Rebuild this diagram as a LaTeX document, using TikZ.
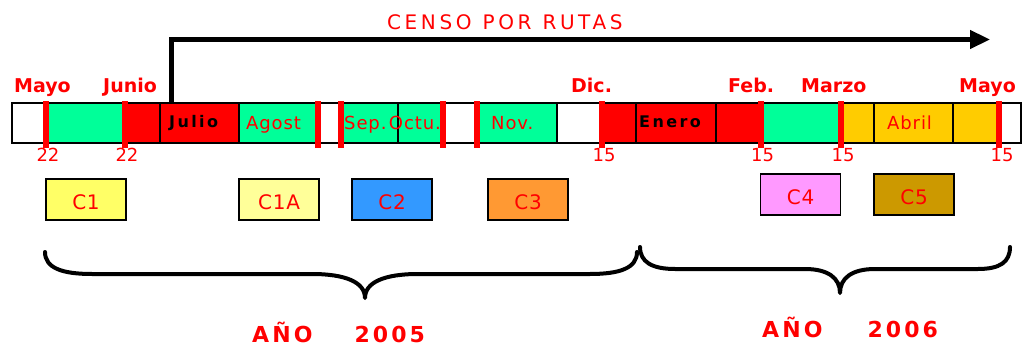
\documentclass[tikz,border=0pt]{standalone}
\usepackage{fontspec}
\setmainfont{DejaVu Sans}
\usetikzlibrary{arrows.meta}
\definecolor{bargreen}{HTML}{00FF99}
\definecolor{barorange}{HTML}{FFCC00}
\definecolor{cyellow}{HTML}{FFFF66}
\definecolor{clight}{HTML}{FFFF99}
\definecolor{cblue}{HTML}{3399FF}
\definecolor{corange}{HTML}{FF9933}
\definecolor{cpink}{HTML}{FF99FF}
\definecolor{cgold}{HTML}{CC9900}
\begin{document}
\begin{tikzpicture}[x=1pt,y=-1pt,
  cell/.style={draw=black, line width=1.2pt, minimum height=40pt, inner sep=0pt, outer sep=0pt},
  marker/.style={fill=red, minimum width=6pt, minimum height=47pt, inner sep=0pt, outer sep=0pt},
  month/.style={text=red, font=\bfseries\fontsize{19}{19}\selectfont, anchor=base west, inner sep=0pt},
  day/.style={text=red, font=\fontsize{18}{18}\selectfont, anchor=base, inner sep=0pt},
  inbar/.style={text=red, font=\fontsize{18}{18}\selectfont\addfontfeature{LetterSpace=5}, anchor=base west, inner sep=0pt},
  inbarbold/.style={text=black, font=\bfseries\fontsize{16}{16}\selectfont\addfontfeature{LetterSpace=15}, anchor=base west, inner sep=0pt},
  cbox/.style={draw=black, line width=1.2pt, minimum width=80pt, minimum height=41pt, inner sep=0pt, text=red, text height=20pt, text depth=0pt, font=\fontsize{20}{20}\selectfont\addfontfeature{LetterSpace=4}},
  brace/.style={line width=4pt, line cap=round, line join=round},
  year/.style={text=red, font=\bfseries\fontsize{22}{22}\selectfont\addfontfeature{LetterSpace=14}, anchor=base west, inner sep=0pt},
  title/.style={text=red, font=\fontsize{20}{20}\selectfont\addfontfeature{LetterSpace=18}, anchor=base west, inner sep=0pt}
]
\useasboundingbox (0,0) rectangle (1024,347);
% bar cells
\foreach \l/\r/\c [count=\i] in {12/47/white, 47/125/bargreen, 125/160/red, 160/239/red, 239/317/bargreen,
  320/342/white, 342/398/bargreen, 398/443/bargreen, 443/477/white, 477/557/bargreen, 557/600/white,
  600/636/red, 636/716/red, 716/762/red, 762/840/bargreen, 840/874/barorange, 874/953/barorange,
  953/998/barorange, 998/1021/white}
  \node[cell, fill=\c, minimum width={(\r-\l)*1pt}] (cell\i) at ({(\l+\r)/2},123) {};
% red markers
\foreach \x [count=\i] in {46,125,318,341,443,477,602,761,841,999}
  \node[marker] (mk\i) at (\x,124.5) {};
% month labels
\node[month] (mMayo) at (14,93) {Mayo};
\node[month] (mJunio) at (103,93) {Junio};
\node[month] (mDic) at (571,93) {Dic.};
\node[month] (mFeb) at (728,93) {Feb.};
\node[month] (mMarzo) at (801,93) {Marzo};
\node[month] (mMayoB) at (959,93) {Mayo};
% day numbers
\node[day] (d1) at (48,162) {22};
\node[day] (d2) at (127,162) {22};
\node[day] (d3) at (604,162) {15};
\node[day] (d4) at (762.5,162) {15};
\node[day] (d5) at (843,162) {15};
\node[day] (d6) at (1002,162) {15};
% text in bar
\node[inbarbold] (tJulio) at (169,128) {Julio};
\node[inbar] (tAgost) at (246,129.5) {Agost};
\node[inbar] (tSep) at (344,130) {Sep.};
\node[inbar, anchor=base east] (tOctu) at (441,130) {Octu.};
\node[inbar] (tNov) at (491,130) {Nov.};
\node[inbarbold] (tEnero) at (639,128) {Enero};
\node[inbar] (tAbril) at (887,130) {Abril};
% census arrow
\node[title] (censo) at (387,30) {CENSO\hspace{11pt}POR\hspace{11pt}RUTAS};
\coordinate (arrStart) at (171.5,103);
\coordinate (arrCorner) at (171.5,39.5);
\coordinate (arrEnd) at (990,39.5);
\draw[line width=4.5pt, -{Triangle[length=20pt,width=18pt]}] (arrStart) -- (arrCorner) -- (arrEnd);
% campaign boxes
\node[cbox, fill=cyellow] (C1) at (86,199.5) {C1};
\node[cbox, fill=clight] (C1A) at (279,199.5) {C1A};
\node[cbox, fill=cblue] (C2) at (392,199.5) {C2};
\node[cbox, fill=corange] (C3) at (528,199.5) {C3};
\node[cbox, fill=cpink] (C4) at (800.5,194.5) {C4};
\node[cbox, fill=cgold] (C5) at (914,194.5) {C5};
% braces
\draw[brace] (45,252) .. controls (45,268) and (62,274) .. (92,274) -- (312,274)
  .. controls (345,274) and (365,282) .. (365,298)
  .. controls (365,282) and (385,274) .. (418,274) -- (590,274)
  .. controls (620,274) and (637,268) .. (637,252);
\draw[brace] (640,247) .. controls (640,262) and (652,269) .. (675,269) -- (805,269)
  .. controls (828,269) and (840,278) .. (840,293)
  .. controls (840,278) and (852,269) .. (875,269) -- (978,269)
  .. controls (1000,269) and (1010,262) .. (1010,247);
% year labels
\node[year] (y2005) at (252,342) {AÑO\hspace{42pt}2005};
\node[year] (y2006) at (762,337) {AÑO\hspace{45pt}2006};
\end{tikzpicture}
\end{document}
